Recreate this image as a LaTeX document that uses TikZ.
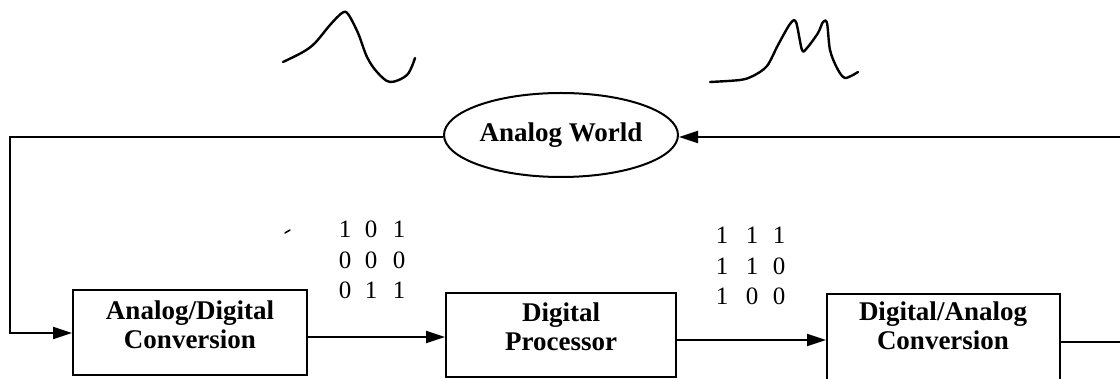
\documentclass[tikz,border=0pt]{standalone}
\usepackage{fontspec}
\setmainfont{Liberation Serif}
\usetikzlibrary{arrows.meta,shapes.geometric,fit}

\tikzset{
  blockbox/.style={draw, line width=2pt, inner sep=0pt},
  blocktext/.style={font=\fontsize{27}{29}\selectfont\bfseries, align=center, inner sep=0pt},
  worldnode/.style={draw, ellipse, line width=2pt, minimum width=234pt, minimum height=84pt,
    inner sep=0pt, font=\fontsize{27}{29}\selectfont\bfseries},
  conn/.style={line width=1.8pt},
  arr/.style={conn, -{Triangle[length=19pt,width=12pt]}},
  bits/.style={font=\fontsize{25}{25}\selectfont, inner sep=0pt},
  wave/.style={line width=2.4pt, line cap=round, line join=round}
}

\begin{document}
\begin{tikzpicture}[x=1pt,y=-1pt]
\useasboundingbox (0,0) rectangle (1120,379);

% signal sketches
\draw[wave] plot[smooth, tension=0.55] coordinates {
  (283,62) (303,52) (315,43) (330,25) (342,13) (348,14) (358,33) (367,57)
  (377,72) (390,82) (407,75) (415,58)};
\draw[wave] plot[smooth, tension=0.5] coordinates {
  (710,82) (740,80) (753,76) (767,66) (778,45) (790,24) (796,22) (802,50)
  (807,48) (818,33) (823,22) (827,23) (830,50) (837,68) (845,78) (858,72)};

% analog world
\node[worldnode] (world) at (561,135) {Analog World};

% processing blocks
\coordinate (ad1) at (73,290);  \coordinate (ad2) at (307,375);
\coordinate (dp1) at (446,293); \coordinate (dp2) at (676,377);
\coordinate (da1) at (827,294); \coordinate (da2) at (1060,381);
\node[blockbox, fit=(ad1)(ad2)] (ad) {};
\node[blockbox, fit=(dp1)(dp2)] (dp) {};
\node[blockbox, fit=(da1)(da2)] (da) {};
\node[blocktext] (adt) at (190,325) {Analog/Digital\\Conversion};
\node[blocktext] (dpt) at (561,327) {Digital\\Processor};
\node[blocktext] (dat) at (943,326) {Digital/Analog\\Conversion};

% bit pattern after conversion
\node[bits] (a11) at (345,229) {1}; \node[bits] (a12) at (371,229) {0}; \node[bits] (a13) at (399,229) {1};
\node[bits] (a21) at (345,260) {0}; \node[bits] (a22) at (371,260) {0}; \node[bits] (a23) at (399,260) {0};
\node[bits] (a31) at (345,290) {0}; \node[bits] (a32) at (371,290) {1}; \node[bits] (a33) at (399,290) {1};
% bit pattern after processing
\node[bits] (b11) at (722,235) {1}; \node[bits] (b12) at (752,235) {1}; \node[bits] (b13) at (779,235) {1};
\node[bits] (b21) at (722,266) {1}; \node[bits] (b22) at (752,266) {1}; \node[bits] (b23) at (779,266) {0};
\node[bits] (b31) at (722,296) {1}; \node[bits] (b32) at (752,296) {0}; \node[bits] (b33) at (779,296) {0};
% small pen mark
\draw[line width=1.5pt, line cap=round] (285,233) -- (290,230);

% loop connectors
\coordinate (lt) at (10,137);
\coordinate (lb) at (10,333);
\coordinate (rb) at (1130,342);
\coordinate (rt) at (1130,137);
\draw[arr] (world.west |- lt) -- (lt) -- (lb) -- (ad.west |- lb);
\draw[arr] (ad.east |- 0,337) -- (dp.west |- 0,337);
\draw[arr] (dp.east |- 0,340) -- (da.west |- 0,340);
\draw[arr] (da.east |- rb) -- (rb) -- (rt) -- (world.east |- rt);
\end{tikzpicture}
\end{document}
